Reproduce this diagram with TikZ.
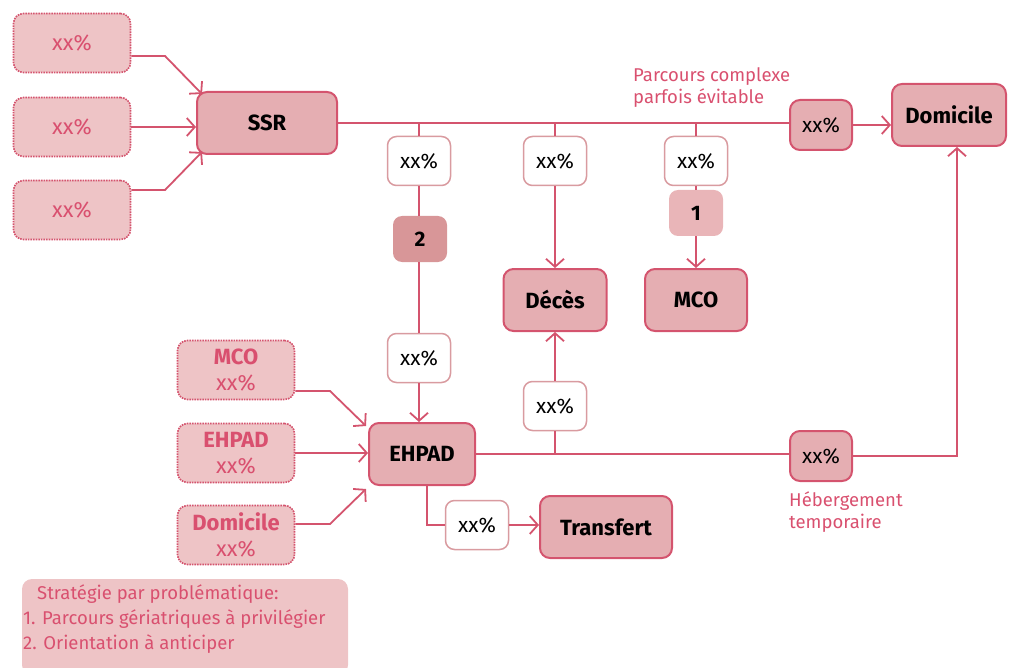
\documentclass[tikz,border=0pt]{standalone}
\usepackage{fontspec}
\setmainfont{Fira Sans}
\usetikzlibrary{arrows.meta,calc}
\definecolor{cline}{HTML}{D4546E}
\definecolor{cfill}{HTML}{E5AEB2}
\definecolor{cdot}{HTML}{EEC4C6}
\definecolor{cwb}{HTML}{D99BA0}
\definecolor{cdark}{HTML}{D89698}
\definecolor{clight}{HTML}{E9B5B8}
\definecolor{ctxt}{HTML}{D9506F}
\tikzset{
  mainbox/.style={draw=cline, line width=2pt, fill=cfill, rounded corners=10pt, inner sep=0pt,
    font=\bfseries\fontsize{22}{26}\selectfont, text=black, minimum height=62pt},
  dotbox/.style={draw=cline, densely dotted, line width=1.6pt, fill=cdot, rounded corners=10pt, inner sep=0pt,
    minimum width=117pt, minimum height=59pt, text=ctxt, font=\fontsize{22}{26}\selectfont, align=center},
  wbox/.style={draw=cwb, line width=1.5pt, fill=white, rounded corners=9pt, inner sep=0pt,
    minimum width=63pt, minimum height=49pt, font=\fontsize{21}{24}\selectfont},
  pbox/.style={draw=cline, line width=2pt, fill=cfill, rounded corners=10pt, inner sep=0pt,
    minimum width=62pt, minimum height=50pt, font=\fontsize{21}{24}\selectfont},
  numbox/.style={draw=none, rounded corners=9pt, inner sep=0pt, minimum width=54pt, minimum height=46pt,
    font=\bfseries\fontsize{21}{24}\selectfont},
  con/.style={draw=cline, line width=1.8pt},
  arr/.style={con, -{Straight Barb[length=8pt,width=18pt,line width=1.8pt]}},
  note/.style={text=ctxt, font=\fontsize{18.5}{22}\selectfont, align=left, inner sep=0pt}
}
\begin{document}
\begin{tikzpicture}[x=1pt,y=-1pt]
\useasboundingbox (0,0) rectangle (1011,668);
% legend
\fill[cdot, rounded corners=10pt] (22,579) rectangle (348,675);
\node[note, anchor=north west, font=\fontsize{18.5}{25}\selectfont] (leg) at (23,584)
  {\hspace{14pt}Stratégie par problématique:\\1. Parcours gériatriques à privilégier\\2. Orientation à anticiper};

% top left inputs
\node[dotbox] (d1) at (72,43) {xx\%};
\node[dotbox] (d2) at (72,127) {xx\%};
\node[dotbox] (d3) at (72,210) {xx\%};
\node[mainbox, minimum width=140pt] (ssr) at (267,123) {SSR};
\node[mainbox, minimum width=114pt] (dom) at (949,115) {Domicile};
\node[pbox] (ptop) at (821,125) {xx\%};
\node[note, anchor=north west] (parc) at (633,67) {Parcours complexe\\parfois évitable};

\node[wbox] (w1) at (419,161) {xx\%};
\node[wbox] (w2) at (555,161) {xx\%};
\node[wbox] (w3) at (696,161) {xx\%};
\node[numbox, fill=cdark] (two) at (420,239) {2};
\node[numbox, fill=clight] (one) at (696,213) {1};
\node[mainbox, minimum width=103pt] (deces) at (555,300) {Décès};
\node[mainbox, minimum width=102pt] (mco) at (696,300) {MCO};
\node[wbox] (w4) at (419,358) {xx\%};
\node[mainbox, minimum width=106pt] (ehpad) at (422,454) {EHPAD};
\node[wbox] (w5) at (555,406) {xx\%};
\node[pbox] (pbot) at (821,456) {xx\%};
\node[note, anchor=north west] (heb) at (789,491) {Hébergement\\temporaire};
\node[wbox] (w6) at (477,525) {xx\%};
\node[mainbox, minimum width=132pt] (trans) at (606,527) {Transfert};

\node[dotbox] (e1) at (236,370) {\textbf{MCO}\\xx\%};
\node[dotbox] (e2) at (236,453) {\textbf{EHPAD}\\xx\%};
\node[dotbox] (e3) at (236,535) {\textbf{Domicile}\\xx\%};

% connectors top-left
\draw[arr] ($(d1.east)+(0,13)$) -- (165,56) -- ($(ssr.north west)+(6,3)$);
\draw[arr] (d2.east) -- (d2.east -| ssr.west);
\draw[arr] ($(d3.east)+(0,-20)$) -- (165,190) -- ($(ssr.south west)+(6,-3)$);

% main line
\draw[con] (ssr.east) -- (ssr.east -| ptop.west);
\draw[arr] (ptop.east) -- (ptop.east -| dom.west);
\draw[con] (w1.north) -- (w1.north |- ssr.east);
\draw[con] (w2.north) -- (w2.north |- ssr.east);
\draw[con] (w3.north) -- (w3.north |- ssr.east);
\draw[con] (w1.south) -- (two.north -| w1.south);
\draw[con] (two.south -| w1.south) -- (w4.north);
\draw[arr] (w4.south) -- (w4.south |- ehpad.north);
\draw[arr] (w2.south) -- (deces.north);
\draw[con] (w3.south) -- (one.north);
\draw[arr] (one.south) -- (mco.north);

% ehpad line
\coordinate (corner) at (957,456);
\draw[con] (ehpad.east) -- (ehpad.east -| pbot.west);
\draw[arr] (pbot.east) -- (corner) -- (corner |- dom.south);
\draw[con] (w5.south) -- (w5.south |- ehpad.east);
\draw[arr] (w5.north) -- (deces.south);
\coordinate (eb) at (427,485);
\draw[con] (eb) -- (eb |- w6.west) -- (w6.west);
\draw[arr] (w6.east) -- (w6.east -| trans.west);

% bottom-left inputs
\draw[arr] ($(e1.east)+(0,21)$) -- (330,391) -- (366,426);
\draw[arr] (e2.east) -- (e2.east -| ehpad.west);
\draw[arr] ($(e3.east)+(0,-11)$) -- (330,524) -- (366,489);
\end{tikzpicture}
\end{document}
